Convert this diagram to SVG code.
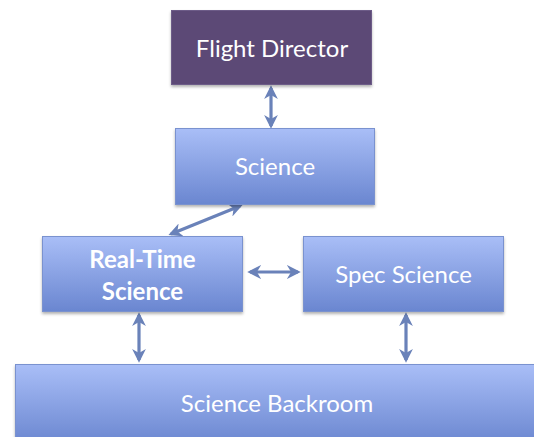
<svg xmlns="http://www.w3.org/2000/svg" width="534" height="437" viewBox="0 0 534 437">
  <defs>
    <linearGradient id="blueFill" x1="0" y1="0" x2="0" y2="1">
      <stop offset="0" stop-color="#a9bef7"/>
      <stop offset="1" stop-color="#6a86d0"/>
    </linearGradient>
    <filter id="shadow" x="-10%" y="-10%" width="120%" height="130%">
      <feDropShadow dx="0" dy="2" stdDeviation="1.5" flood-color="#000" flood-opacity="0.3"/>
    </filter>
    <marker id="head" viewBox="0 0 10 10" refX="8" refY="5" markerWidth="4.3" markerHeight="4.3" orient="auto-start-reverse">
      <path d="M0,0 L10,5 L0,10 L3,5 Z" fill="#6a82b9"/>
    </marker>
  </defs>
  <style>
    .box { fill: url(#blueFill); stroke: #7a92cf; stroke-width: 1; filter: url(#shadow); }
    .lbl { font-family: Lato, "Open Sans", "Liberation Sans", sans-serif; font-size: 24px; fill: #ffffff; text-anchor: middle; }
    .conn { stroke: #6a82b9; stroke-width: 3.2; fill: none; marker-start: url(#head); marker-end: url(#head); }
  </style>

  <g id="connectors">
    <line class="conn" x1="271" y1="88" x2="271" y2="126"/>
    <line class="conn" x1="240" y1="206" x2="171" y2="234"/>
    <line class="conn" x1="250" y1="272" x2="298" y2="272"/>
    <line class="conn" x1="139" y1="315" x2="139" y2="360"/>
    <line class="conn" x1="406" y1="315" x2="406" y2="360"/>
  </g>

  <g id="flight-director">
    <rect x="171.5" y="10.5" width="200" height="74" fill="#5b4876" stroke="#6d5c88" filter="url(#shadow)"/>
    <text class="lbl" x="272" y="57">Flight Director</text>
  </g>

  <g id="science">
    <rect class="box" x="175.5" y="128.5" width="199" height="76"/>
    <text class="lbl" x="275" y="175">Science</text>
  </g>

  <g id="real-time-science">
    <rect class="box" x="42.5" y="236.5" width="200" height="75"/>
    <text class="lbl" x="142.5" y="268" font-weight="bold">Real-Time</text>
    <text class="lbl" x="142.5" y="300" font-weight="bold">Science</text>
  </g>

  <g id="spec-science">
    <rect class="box" x="303.5" y="236.5" width="200" height="75"/>
    <text class="lbl" x="403.5" y="283">Spec Science</text>
  </g>

  <g id="science-backroom">
    <rect class="box" x="15.5" y="364.5" width="530" height="80"/>
    <text class="lbl" x="277" y="412">Science Backroom</text>
  </g>
</svg>
